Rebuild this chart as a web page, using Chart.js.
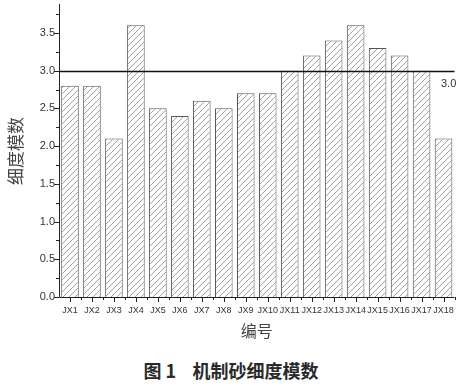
<!DOCTYPE html>
<html>
<head>
<meta charset="utf-8">
<script src="https://cdn.jsdelivr.net/npm/chart.js@4"></script>
<style>
  body { margin: 0; background: #fff; }
  #wrap { width: 462px; height: 345px; position: relative; }
  #caption {
    position: absolute; left: 0; top: 357px; width: 462px; text-align: center;
    font-family: "Noto Sans CJK SC", sans-serif; font-size: 18px; font-weight: bold; color: #2a2a2a;
  }
</style>
</head>
<body>
<div id="wrap"><canvas id="c" width="462" height="345"></canvas></div>
<div id="caption">图 1&nbsp;&nbsp;&nbsp;&nbsp;机制砂细度模数</div>
<script>
// 编号 y 细度模数
const labels = ['JX1','JX2','JX3','JX4','JX5','JX6','JX7','JX8','JX9','JX10',
                'JX11','JX12','JX13','JX14','JX15','JX16','JX17','JX18'];
const values = [2.8, 2.8, 2.1, 3.6, 2.5, 2.4, 2.6, 2.5, 2.7, 2.7,
                3.0, 3.2, 3.4, 3.6, 3.3, 3.2, 3.0, 2.1];
const yTicks = [0, 0.5, 1.0, 1.5, 2.0, 2.5, 3.0, 3.5];
const refValue = 3.0;

// patró de ratlles diagonals
function hatch() {
  const p = document.createElement('canvas');
  p.width = 6; p.height = 6;
  const g = p.getContext('2d');
  g.fillStyle = '#fff';
  g.fillRect(0, 0, 6, 6);
  g.strokeStyle = '#8a8a8a';
  g.lineWidth = 0.8;
  g.beginPath();
  g.moveTo(-1, 7); g.lineTo(7, -1);
  g.moveTo(-4, 4); g.lineTo(4, -4);
  g.moveTo(2, 10); g.lineTo(10, 2);
  g.stroke();
  return g.createPattern(p, 'repeat');
}

const ctx = document.getElementById('c').getContext('2d');

const extras = {
  id: 'extras',
  afterDraw(chart) {
    const c = chart.ctx, x = chart.scales.x, y = chart.scales.y, a = chart.chartArea;
    c.save();
    c.strokeStyle = '#222';
    c.lineWidth = 1;
    // eixos
    c.beginPath();
    c.moveTo(a.left + 0.5, 4); c.lineTo(a.left + 0.5, a.bottom + 0.5);
    c.lineTo(a.right, a.bottom + 0.5);
    c.stroke();
    // marques eix y
    c.beginPath();
    for (let v = 0; v <= 3.75; v += 0.25) {
      const py = Math.round(y.getPixelForValue(v)) + 0.5;
      const len = (Math.round(v * 4) % 2 === 0) ? 5 : 3;
      c.moveTo(a.left - len, py); c.lineTo(a.left, py);
    }
    // marques eix x
    for (let i = 0; i < labels.length; i++) {
      const px = Math.round(x.getPixelForValue(i)) + 0.5;
      c.moveTo(px, a.bottom); c.lineTo(px, a.bottom + 5);
      const bx = Math.round(x.getPixelForValue(i) + (x.getPixelForValue(1) - x.getPixelForValue(0)) / 2) + 0.5;
      c.moveTo(bx, a.bottom); c.lineTo(bx, a.bottom + 3);
    }
    c.stroke();
    // línia de referència
    const ry = Math.round(y.getPixelForValue(refValue)) + 0.5;
    c.lineWidth = 1.5;
    c.strokeStyle = '#111';
    c.beginPath();
    c.moveTo(a.left, ry); c.lineTo(a.right, ry);
    c.stroke();
    c.fillStyle = '#333';
    c.font = '11px "Liberation Sans", Arial, sans-serif';
    c.textAlign = 'left';
    c.textBaseline = 'middle';
    c.fillText(refValue.toFixed(1), 441, ry + 12);
    c.restore();
  }
};

new Chart(ctx, {
  type: 'bar',
  data: {
    labels: labels,
    datasets: [{
      data: values,
      backgroundColor: hatch(),
      borderColor: '#555',
      borderWidth: 1,
      barPercentage: 0.8,
      categoryPercentage: 1.0
    }]
  },
  options: {
    responsive: false,
    animation: false,
    layout: { padding: { top: 5, right: 7, left: 0, bottom: 0 } },
    plugins: { legend: { display: false }, tooltip: { enabled: false } },
    scales: {
      y: {
        min: 0,
        max: 3.87,
        afterBuildTicks: s => { s.ticks = yTicks.map(v => ({ value: v })); },
        afterFit: s => { s.width = 59; s.paddingTop = 0; s.paddingBottom = 0; },
        ticks: {
          color: '#333',
          font: { family: '"Liberation Sans", Arial, sans-serif', size: 11 },
          callback: v => v.toFixed(1),
          padding: 4
        },
        grid: { display: false, drawTicks: false },
        border: { display: false },
        title: {
          display: true,
          text: '细度模数',
          color: '#444',
          font: { family: '"Noto Sans CJK SC", sans-serif', size: 17 },
          padding: { top: 5, bottom: 0 }
        }
      },
      x: {
        afterFit: s => { s.height = 48; },
        ticks: {
          color: '#333',
          font: { family: '"Liberation Sans", Arial, sans-serif', size: 9 },
          maxRotation: 0,
          autoSkip: false,
          padding: 8
        },
        grid: { display: false, drawTicks: false },
        border: { display: false },
        title: {
          display: true,
          text: '编号',
          color: '#444',
          font: { family: '"Noto Sans CJK SC", sans-serif', size: 16 },
          padding: { top: 4 }
        }
      }
    }
  },
  plugins: [extras]
});
</script>
</body>
</html>
